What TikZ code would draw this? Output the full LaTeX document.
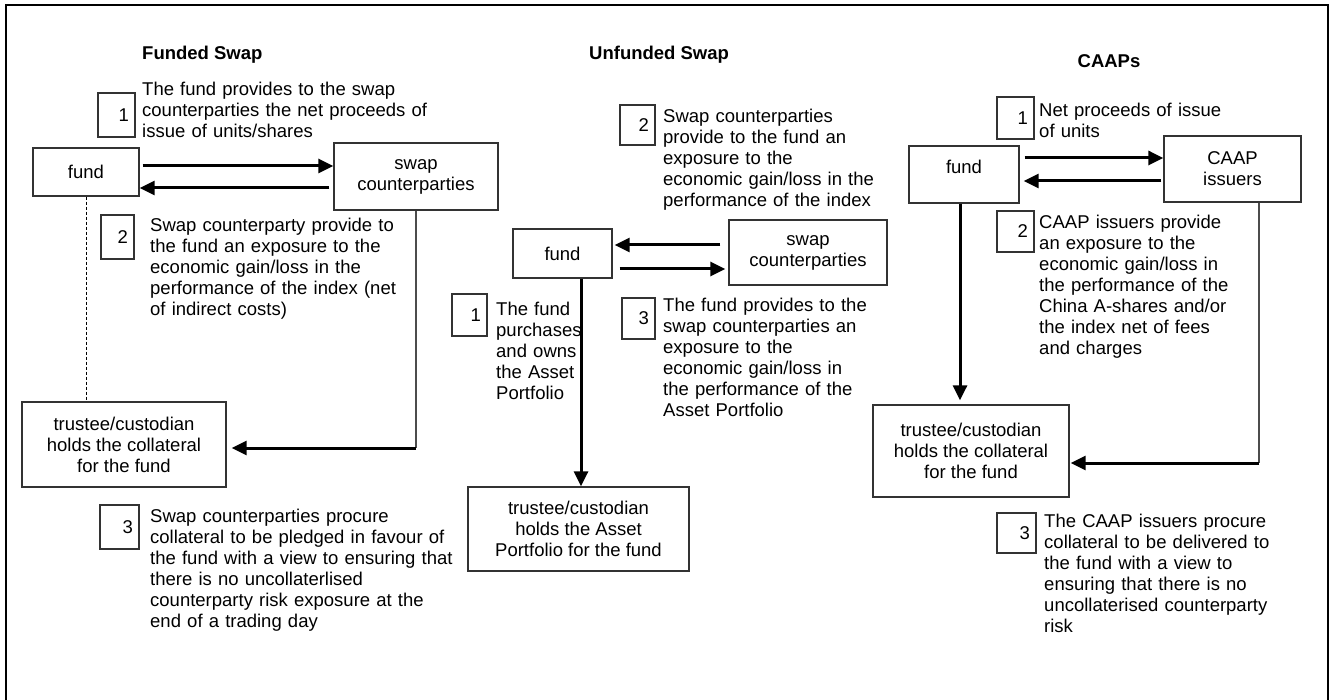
\documentclass[tikz,border=0pt]{standalone}
\usepackage{fontspec}
\setmainfont{Liberation Sans}
\usetikzlibrary{arrows.meta}
\begin{document}
\begin{tikzpicture}[x=1pt,y=-1pt,
  every node/.style={font=\fontsize{18.5}{21}\selectfont},
  box/.style={draw=black!80, line width=1.3pt, inner sep=0pt, align=center},
  numbox/.style={draw=black!80, line width=1.2pt, inner ysep=0pt, inner xsep=6pt, align=right},
  desc/.style={anchor=base west, inner sep=0pt, text width=420pt, align=left},
  ttl/.style={anchor=base west, inner sep=0pt, font=\fontsize{18.5}{21}\selectfont\bfseries},
  arr/.style={line width=3pt, -{Triangle[length=15pt,width=14pt]}},
  conn/.style={line width=1.6pt, draw=black!70},
  dashline/.style={line width=0.8pt, dash pattern=on 3pt off 2pt}]
\useasboundingbox (0,0) rectangle (1330,700);
\draw[line width=2.5pt] (6,700) -- (6,5) -- (1328,5) -- (1328,700);

% ---------- Funded Swap
\node[ttl] (t1) at (142,60) {Funded Swap};
\node[numbox, minimum height=44pt, text width=25pt] (f1n) at (116.5,115) {1};
\node[desc] (f1t) at (142,96) {The fund provides to the swap\\counterparties the net proceeds of\\issue of units/shares};
\node[box, minimum width=106pt, minimum height=48pt] (ffund) at (86,172) {fund};
\node[box, minimum width=164pt, minimum height=67pt] (fswap) at (416,176.5) {swap\\counterparties};
\draw[arr, shorten <=3pt] (ffund.east |- 0,166) -- (fswap.west |- 0,166);
\draw[arr, shorten <=4pt] (fswap.west |- 0,188) -- (ffund.east |- 0,188);
\node[numbox, minimum height=44pt, text width=21pt] (f2n) at (117.5,237) {2};
\node[desc] (f2t) at (150,232) {Swap counterparty provide to\\the fund an exposure to the\\economic gain/loss in the\\performance of the index (net\\of indirect costs)};
\node[box, minimum width=204pt, minimum height=85pt] (ftrustee) at (124,444.5) {trustee/custodian\\holds the collateral\\for the fund};
\draw[dashline] (ffund.south) -- (ffund.south |- ftrustee.north);
\coordinate (fbend) at (fswap.south |- 0,448);
\draw[conn] (fswap.south) -- (fbend);
\draw[arr, shorten >=5pt] (fbend) -- (ftrustee.east |- fbend);
\node[numbox, minimum height=44pt, text width=27pt] (f3n) at (119.5,527) {3};
\node[desc] (f3t) at (150,522) {Swap counterparties procure\\collateral to be pledged in favour of\\the fund with a view to ensuring that\\there is no uncollaterlised\\counterparty risk exposure at the\\end of a trading day};

% ---------- Unfunded Swap
\node[ttl] (t2) at (589,60) {Unfunded Swap};
\node[numbox, minimum height=40pt, text width=23pt] (u2n) at (637.5,125) {2};
\node[desc] (u2t) at (663,123) {Swap counterparties\\provide to the fund an\\exposure to the\\economic gain/loss in the\\performance of the index};
\node[box, minimum width=99pt, minimum height=49pt] (ufund) at (562.5,253.5) {fund};
\node[box, minimum width=158pt, minimum height=65pt] (uswap) at (808,252.5) {swap\\counterparties};
\draw[arr, shorten <=8pt, shorten >=2pt] (uswap.west |- 0,245) -- (ufund.east |- 0,245);
\draw[arr, shorten <=7pt, shorten >=3pt] (ufund.east |- 0,269) -- (uswap.west |- 0,269);
\node[numbox, minimum height=42pt, text width=23pt] (u1n) at (469.5,315) {1};
\node[desc] (u1t) at (496,316) {The fund\\purchases\\and owns\\the Asset\\Portfolio};
\node[numbox, minimum height=41pt, text width=21pt] (u3n) at (638.5,318.5) {3};
\node[desc] (u3t) at (663,312) {The fund provides to the\\swap counterparties an\\exposure to the\\economic gain/loss in\\the performance of the\\Asset Portfolio};
\node[box, minimum width=221pt, minimum height=84pt] (utrustee) at (578.5,529) {trustee/custodian\\holds the Asset\\Portfolio for the fund};
\draw[arr] (ufund.south -| 581,0) -- (utrustee.north -| 581,0);

% ---------- CAAPs
\node[ttl, anchor=base] (t3) at (1109,68) {CAAPs};
\node[numbox, minimum height=42pt, text width=25pt] (c1n) at (1015.5,118) {1};
\node[desc] (c1t) at (1039,117) {Net proceeds of issue\\of units};
\node[box, minimum width=110pt, minimum height=57pt, text depth=15pt] (cfund) at (964,174.5) {fund};
\node[box, minimum width=137pt, minimum height=66pt] (cissuer) at (1232.5,169) {CAAP\\issuers};
\draw[arr, shorten <=5pt] (cfund.east |- 0,158) -- (cissuer.west |- 0,158);
\draw[arr, shorten <=2pt, shorten >=4pt] (cissuer.west |- 0,181) -- (cfund.east |- 0,181);
\node[numbox, minimum height=41pt, text width=25pt] (c2n) at (1015.5,231.5) {2};
\node[desc] (c2t) at (1039,229) {CAAP issuers provide\\an exposure to the\\economic gain/loss in\\the performance of the\\China A-shares and/or\\the index net of fees\\and charges};
\node[box, minimum width=196pt, minimum height=92pt] (ctrustee) at (971,451) {trustee/custodian\\holds the collateral\\for the fund};
\draw[arr, shorten >=4pt] (cfund.south -| 960,0) -- (ctrustee.north -| 960,0);
\coordinate (cbend) at (1259,463);
\draw[conn] (cissuer.south -| cbend) -- (cbend);
\draw[arr, shorten >=1pt] (cbend) -- (ctrustee.east |- cbend);
\node[numbox, minimum height=40pt, text width=27pt] (c3n) at (1016.5,533) {3};
\node[desc] (c3t) at (1044,527) {The CAAP issuers procure\\collateral to be delivered to\\the fund with a view to\\ensuring that there is no\\uncollaterised counterparty\\risk};
\end{tikzpicture}
\end{document}
